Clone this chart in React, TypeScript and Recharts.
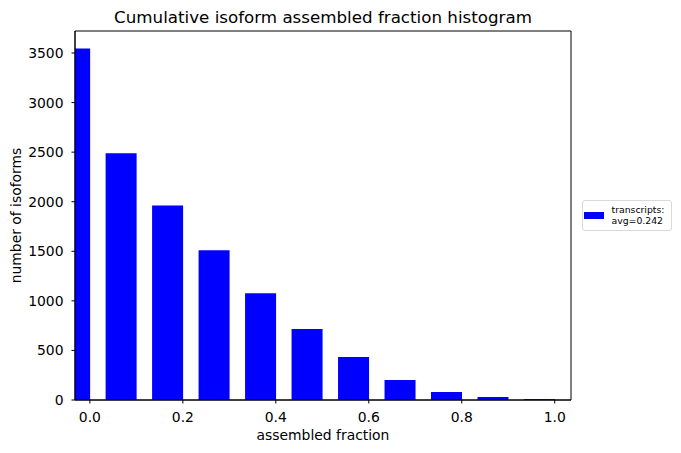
import React from "react";
import {
  BarChart,
  XAxis,
  YAxis,
  Bar,
  ReferenceArea,
} from "recharts";

// right edge of each histogram bin
const binEnds = [0.0, 0.1, 0.2, 0.3, 0.4, 0.5, 0.6, 0.7, 0.8, 0.9, 1.0];
// isoforms per bin
const counts = [3545, 2490, 1962, 1510, 1078, 715, 433, 202, 81, 30, 10];

const xTicks = [0, 0.2, 0.4, 0.6, 0.8, 1.0];
const yTicks = [0, 500, 1000, 1500, 2000, 2500, 3000, 3500];

const BIN_WIDTH = 0.0667;
const X_MIN = -0.032;
const X_MAX = 1.035;
const Y_MAX = 3722;

const W = 681;
const H = 453;
const LEFT = 75;
const RIGHT = 110;
const TOP = 31;
const BOTTOM = 53;
const PLOT_W = W - LEFT - RIGHT;
const BAR_PX = (PLOT_W * BIN_WIDTH) / (X_MAX - X_MIN);

const data = binEnds.map((end, i) => ({
  x: end - BIN_WIDTH / 2,
  count: counts[i],
}));

const FONT = "'DejaVu Sans', sans-serif";

export default function App() {
  return (
    <div
      style={{
        position: "absolute",
        left: 0,
        top: 0,
        width: W,
        height: H,
        fontFamily: FONT,
        background: "#fff",
      }}
    >
      <div
        style={{
          position: "absolute",
          left: LEFT,
          top: 6.7,
          width: PLOT_W,
          textAlign: "center",
          fontSize: 16.7,
          lineHeight: "20px",
          color: "#000",
        }}
      >
        Cumulative isoform assembled fraction histogram
      </div>

      <BarChart
        width={W}
        height={H}
        data={data}
        margin={{ top: TOP, right: RIGHT, bottom: 0, left: 0 }}
        style={{ fontFamily: FONT }}
      >
        <XAxis
          dataKey="x"
          type="number"
          domain={[X_MIN, X_MAX]}
          allowDataOverflow
          ticks={xTicks}
          interval={0}
          tickFormatter={(v: number) => v.toFixed(1)}
          height={BOTTOM}
          tickSize={3.5}
          tickMargin={8.3}
          stroke="#000"
          tick={{ fill: "#000", fontSize: 13.9 }}
          label={{
            value: "assembled fraction",
            position: "insideBottom",
            offset: 13,
            style: { fill: "#000", fontSize: 13.9 },
          }}
        />
        <YAxis
          type="number"
          domain={[0, Y_MAX]}
          allowDataOverflow
          ticks={yTicks}
          interval={0}
          width={LEFT}
          tickSize={3.5}
          tickMargin={8}
          stroke="#000"
          tick={{ fill: "#000", fontSize: 13.9 }}
          label={{
            value: "number of isoforms",
            angle: -90,
            position: "insideLeft",
            offset: 16.5,
            style: { fill: "#000", fontSize: 13.9, textAnchor: "middle" },
          }}
        />
        <Bar
          dataKey="count"
          fill="#0000ff"
          barSize={BAR_PX}
          isAnimationActive={false}
        />
        <ReferenceArea
          x1={X_MIN}
          x2={X_MAX}
          y1={0}
          y2={Y_MAX}
          fill="none"
          fillOpacity={0}
          stroke="#000"
          strokeWidth={1}
          strokeOpacity={1}
        />
      </BarChart>

      <div
        style={{
          position: "absolute",
          left: 582,
          top: 200,
          width: 90,
          height: 31,
          border: "1px solid #d9d9d9",
          borderRadius: 3,
          boxSizing: "border-box",
          background: "#fff",
        }}
      >
        <div
          style={{
            position: "absolute",
            left: 1,
            top: 11,
            width: 20,
            height: 7,
            background: "#0000ff",
          }}
        />
        <div
          style={{
            position: "absolute",
            left: 28.5,
            top: 2.5,
            fontSize: 9.3,
            lineHeight: "11.5px",
            color: "#000",
            whiteSpace: "nowrap",
          }}
        >
          transcripts:
          <br />
          avg=0.242
        </div>
      </div>
    </div>
  );
}
